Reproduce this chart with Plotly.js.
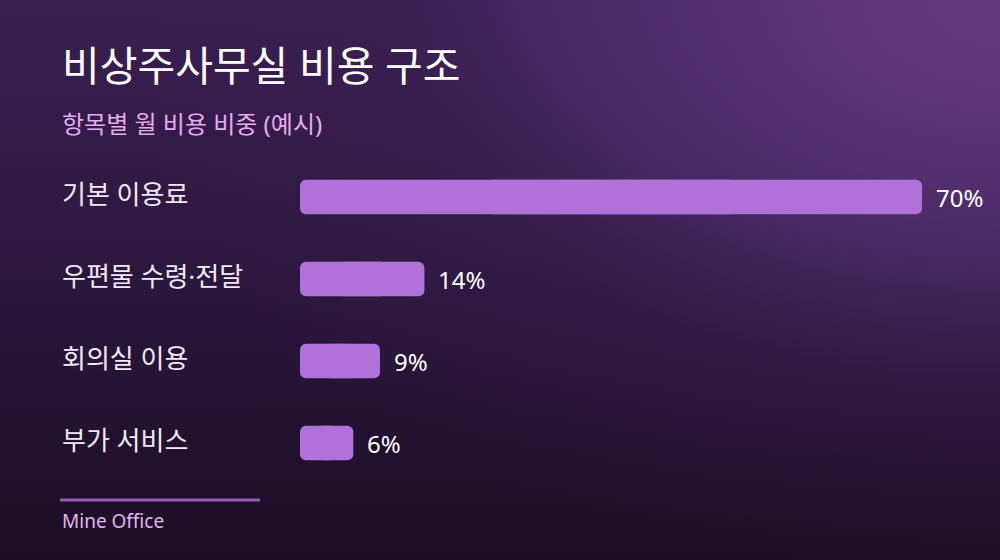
<!DOCTYPE html>
<html>
<head>
<meta charset="utf-8">
<script src="https://cdn.plot.ly/plotly-3.0.1.min.js"></script>
<style>
  html, body { margin: 0; padding: 0; }
  body {
    width: 1000px; height: 560px; overflow: hidden;
    background:
      radial-gradient(ellipse 1000px 640px at 100% 0%, rgba(100, 57, 128, 1) 0%, rgba(88, 50, 115, 0.85) 30%, rgba(60, 32, 82, 0.4) 60%, rgba(40, 20, 55, 0) 90%),
      linear-gradient(180deg, #3a1f52 0%, #2a173d 50%, #1b0e24 100%);
  }
  #chart { width: 1000px; height: 560px; }
</style>
</head>
<body>
<div id="chart"></div>
<script>
// --- data ---
const categories = ["기본 이용료", "우편물 수령·전달", "회의실 이용", "부가 서비스"];
const shares = [70, 14, 9, 6];
const valueLabels = ["70%", "14%", "9%", "6%"];

// latin in Noto Sans, hangul falls back to the CJK face
const FONT = "'Noto Sans', 'Noto Sans CJK KR', sans-serif";

// plot area: top 156px, bottom 484px -> paper y helper
const py = (px) => (484 - px) / 328;

// cornerradius only rounds one end of a bar, so each bar is drawn as two
// overlapping pieces: one grows right to the value, one grows left to 0.
// The overlap hides the rounded inner corners.
const barStyle = { color: "#b072da", line: { width: 0 }, cornerradius: 6 };

const traces = [
    {   // right piece: 30% .. 100% of the value
        type: "bar", orientation: "h",
        x: shares.map(v => v * 0.7), base: shares.map(v => v * 0.3), y: categories,
        marker: barStyle, width: 0.42, hoverinfo: "skip"
    },
    {   // left piece: 70% of the value back to 0
        type: "bar", orientation: "h",
        x: shares.map(v => -v * 0.7), base: shares.map(v => v * 0.7), y: categories,
        marker: barStyle, width: 0.42, hoverinfo: "skip"
    }
];

// row labels at the left + value labels after the bar ends
const annotations = [];
categories.forEach((c, i) => {
    annotations.push({
        xref: "paper", yref: "y", x: 0.06, y: c, xanchor: "left", yanchor: "middle",
        yshift: 3, text: c, showarrow: false,
        font: { family: FONT, size: 26, color: "#f1e9f6" }
    });
    annotations.push({
        xref: "x", yref: "y", x: shares[i], y: c, xanchor: "left", yanchor: "middle",
        xshift: 12, text: valueLabels[i], showarrow: false,
        font: { family: FONT, size: 24, color: "#ffffff" }
    });
});

// title, subtitle, footer
annotations.push({
    xref: "paper", yref: "paper", x: 0.06, y: py(65), xanchor: "left", yanchor: "middle",
    text: "비상주사무실 비용 구조", showarrow: false,
    font: { family: FONT, size: 41, color: "#ffffff" }
});
annotations.push({
    xref: "paper", yref: "paper", x: 0.06, y: py(123), xanchor: "left", yanchor: "middle",
    text: "항목별 월 비용 비중 (예시)", showarrow: false,
    font: { family: FONT, size: 24, color: "#e6acef" }
});
annotations.push({
    xref: "paper", yref: "paper", x: 0.06, y: py(521), xanchor: "left", yanchor: "middle",
    text: "Mine Office", showarrow: false,
    font: { family: FONT, size: 19, color: "#e3b4f0" }
});

const layout = {
    width: 1000, height: 560,
    margin: { l: 0, r: 0, t: 156, b: 76 },
    paper_bgcolor: "rgba(0,0,0,0)", plot_bgcolor: "rgba(0,0,0,0)",
    showlegend: false,
    barmode: "overlay",
    xaxis: {
        domain: [0.3, 0.922], range: [0, 70],
        visible: false, fixedrange: true
    },
    yaxis: {
        type: "category", range: [3.5, -0.5],
        visible: false, fixedrange: true
    },
    annotations: annotations,
    shapes: [
        { type: "line", xref: "paper", yref: "paper", x0: 0.06, x1: 0.26, y0: py(500), y1: py(500),
          line: { color: "#9a5cb8", width: 3 } }
    ]
};

Plotly.newPlot("chart", traces, layout, { displayModeBar: false, staticPlot: true });
</script>
</body>
</html>
